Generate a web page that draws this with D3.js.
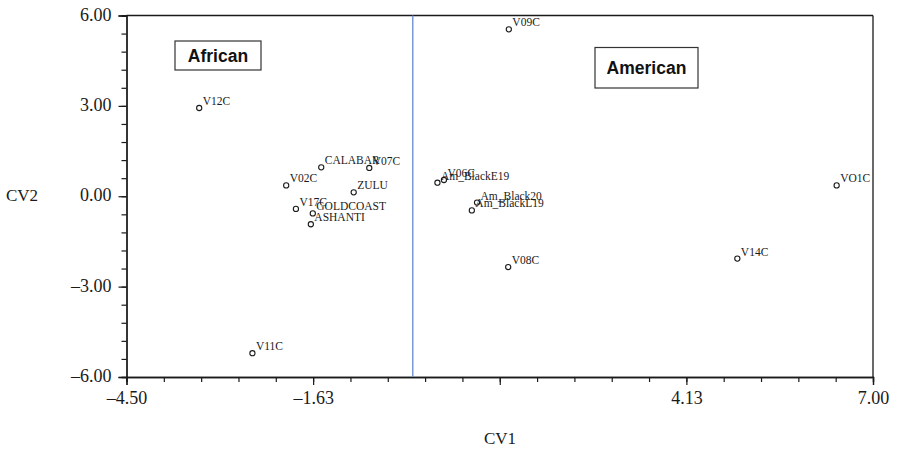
<!DOCTYPE html>
<html>
<head>
<meta charset="utf-8">
<script src="https://cdn.jsdelivr.net/npm/d3@7"></script>
<style>
  html, body { margin: 0; padding: 0; background: #fff; }
  svg { display: block; }
</style>
</head>
<body>
<svg id="chart" width="898" height="456"></svg>
<script>
// Canonical variate scores per sample
const names = ["V12C", "V11C", "V09C", "V08C", "CALABAR", "V07C", "V02C", "ZULU",
  "V17C", "GOLDCOAST", "ASHANTI", "Am_BlackE19", "V06C", "Am_Black20", "Am_BlackL19",
  "VO1C", "V14C"];
const cv1 = [-3.38, -2.56, 1.39, 1.38, -1.50, -0.76, -2.04, -1.00,
  -1.89, -1.63, -1.66, 0.29, 0.39, 0.90, 0.82, 6.44, 4.91];
const cv2 = [2.93, -5.21, 5.54, -2.35, 0.96, 0.94, 0.36, 0.13,
  -0.42, -0.57, -0.93, 0.45, 0.54, -0.21, -0.47, 0.36, -2.07];

// Axis ticks
const xMajor = [-4.5, -1.625, 1.25, 4.125, 7.0];
const xMajorLabels = ["\u20134.50", "\u20131.63", "", "4.13", "7.00"];
const yMajor = [-6, -3, 0, 3, 6];
const yMajorLabels = ["\u20136.00", "\u20133.00", "0.00", "3.00", "6.00"];

// Group divider and group captions
const dividerCV1 = -0.09;
const groups = ["African", "American"];

(function draw() {
  const svg = d3.select("#chart");
  const plotL = 126.5, plotR = 873, plotT = 15.5, plotB = 377;

  const x = d3.scaleLinear().domain([-4.5, 7.0]).range([plotL, plotR]);
  const y = d3.scaleLinear().domain([-6, 6]).range([plotB, plotT]);

  const serif = "'Liberation Serif', 'Times New Roman', serif";
  const ink = "#1a1a1a";

  // minor ticks: five per major step
  const xMinor = d3.range(0, 21).map(i => -4.5 + i * 0.575);
  const yMinor = d3.range(0, 21).map(i => -6 + i * 0.6);

  // frame: top and right edges
  svg.append("line").attr("x1", plotL).attr("x2", plotR).attr("y1", plotT).attr("y2", plotT)
    .attr("stroke", ink).attr("stroke-width", 1.3);
  svg.append("line").attr("x1", plotR).attr("x2", plotR).attr("y1", plotT).attr("y2", plotB)
    .attr("stroke", ink).attr("stroke-width", 1.3);

  // x axis
  const gxMinor = svg.append("g").attr("transform", `translate(0,${plotB})`)
    .call(d3.axisBottom(x).tickValues(xMinor).tickSize(5).tickFormat(""));
  const gx = svg.append("g").attr("transform", `translate(0,${plotB})`)
    .call(d3.axisBottom(x).tickValues(xMajor).tickSize(8).tickPadding(6)
      .tickFormat((d, i) => xMajorLabels[i]));

  // y axis
  const gyMinor = svg.append("g").attr("transform", `translate(${plotL},0)`)
    .call(d3.axisLeft(y).tickValues(yMinor).tickSize(5).tickFormat(""));
  const gy = svg.append("g").attr("transform", `translate(${plotL},0)`)
    .call(d3.axisLeft(y).tickValues(yMajor).tickSize(8).tickPadding(7)
      .tickFormat((d, i) => yMajorLabels[i]));

  [gxMinor, gx, gyMinor, gy].forEach(g => {
    g.select(".domain").attr("stroke", ink).attr("stroke-width", 1.3);
    g.selectAll(".tick line").attr("stroke", ink).attr("stroke-width", 1.2);
    g.selectAll(".tick text").attr("fill", ink).style("font-family", serif).style("font-size", "18px");
  });
  gy.selectAll(".tick text").attr("dy", "0.25em");

  // divider between groups
  svg.append("line")
    .attr("x1", x(dividerCV1)).attr("x2", x(dividerCV1))
    .attr("y1", plotT).attr("y2", plotB)
    .attr("stroke", "#7191cf").attr("stroke-width", 1.4);

  // group captions
  const captions = [
    { text: groups[0], x0: 175, y0: 41, w: 86, h: 29 },
    { text: groups[1], x0: 595, y0: 47.5, w: 103, h: 40.5 }
  ];
  captions.forEach(c => {
    svg.append("rect").attr("x", c.x0).attr("y", c.y0).attr("width", c.w).attr("height", c.h)
      .attr("fill", "#fff").attr("stroke", "#333").attr("stroke-width", 1.2);
    svg.append("text").attr("x", c.x0 + c.w / 2).attr("y", c.y0 + c.h / 2 + 6.5)
      .attr("text-anchor", "middle")
      .style("font-family", "'Liberation Sans', Arial, sans-serif")
      .style("font-weight", "bold").style("font-size", "17.5px")
      .attr("fill", "#111").text(c.text);
  });

  // points
  const pts = names.map((n, i) => ({ name: n, a: cv1[i], b: cv2[i] }));
  const g = svg.append("g");
  g.selectAll("circle").data(pts).join("circle")
    .attr("cx", d => x(d.a)).attr("cy", d => y(d.b)).attr("r", 2.6)
    .attr("fill", "#fff").attr("stroke", ink).attr("stroke-width", 1.1);
  g.selectAll("text").data(pts).join("text")
    .attr("x", d => x(d.a) + 3.5).attr("y", d => y(d.b) - 3)
    .style("font-family", serif).style("font-size", "11.5px")
    .attr("fill", ink).text(d => d.name);

  // axis titles
  svg.append("text").attr("x", 500).attr("y", 444).attr("text-anchor", "middle")
    .style("font-family", serif).style("font-size", "17px").attr("fill", ink).text("CV1");
  svg.append("text").attr("x", 22).attr("y", 201).attr("text-anchor", "middle")
    .style("font-family", serif).style("font-size", "17px").attr("fill", ink).text("CV2");
})();
</script>
</body>
</html>
